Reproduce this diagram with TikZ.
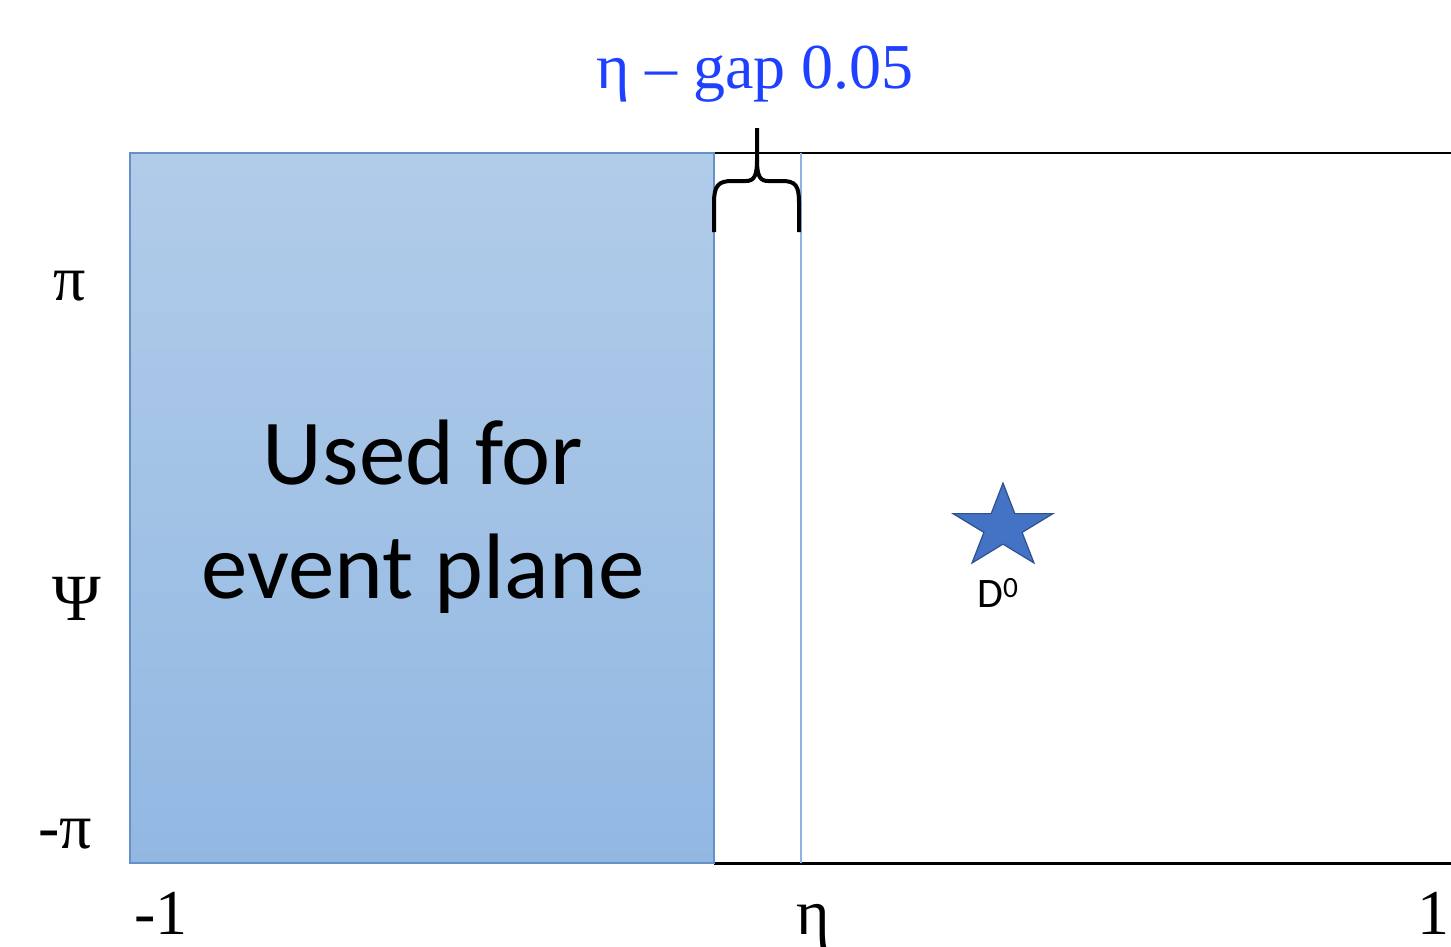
\documentclass[tikz,border=0pt]{standalone}
\usepackage{fontspec}
\setmainfont{Liberation Serif}
\newfontfamily\carl{Carlito}
\definecolor{titleblue}{RGB}{31,64,255}
\definecolor{boxtop}{RGB}{177,204,233}
\definecolor{boxbot}{RGB}{146,184,226}
\definecolor{boxedge}{RGB}{100,145,200}
\definecolor{gapline}{RGB}{143,180,227}
\definecolor{starfill}{RGB}{68,114,196}
\definecolor{staredge}{RGB}{47,82,143}
\begin{document}
\begin{tikzpicture}[x=1pt,y=-1pt,
  axislabel/.style={inner sep=0pt,font=\fontsize{64}{70}\selectfont},
  axisline/.style={draw=black,line width=2.6pt},
  bracestyle/.style={draw=black,line width=4pt,line join=round},
  starstyle/.style={fill=starfill,draw=staredge,line width=1.2pt,line join=miter}]
\useasboundingbox (0,0) rectangle (1451,946);
% axis lines
\draw[axisline,line width=2.2pt] (714,153) -- (1451,153);
\draw[axisline,line width=3pt] (714,863) -- (1451,863);
% event-plane box
\shade[top color=boxtop,bottom color=boxbot] (130,153) rectangle (714,863);
\draw[boxedge,line width=2pt] (130,153) rectangle (714,863);
\node[inner sep=0pt,align=center,font=\carl\fontsize{93}{114}\selectfont] (used) at (423,517) {Used for\\event plane};
% gap line
\draw[gapline,line width=2pt] (801,153) -- (801,863);
% brace
\draw[bracestyle] (714,232) -- (714,203) .. controls (714,186) and (718,181) .. (732,181) -- (746,181)
  .. controls (754,181) and (757,176) .. (757,160) -- (757,128);
\draw[bracestyle] (757,160) .. controls (757,176) and (760,181) .. (768,181) -- (782,181)
  .. controls (796,181) and (799,186) .. (799,203) -- (799,232);
\node[inner sep=0pt,anchor=base,text=titleblue,font=\fontsize{64}{70}\selectfont] (title) at (755,88) {η – gap 0.05};
% star
\draw[starstyle] (1003,483) -- (1014.8,513.6) -- (1053,513.6) -- (1022.1,532.4) -- (1034,563) -- (1003,544.1)
  -- (972,563) -- (983.9,532.4) -- (953,513.6) -- (991.2,513.6) -- cycle;
\node[inner sep=0pt,anchor=base,font=\carl\fontsize{42}{48}\selectfont] (d0) at (998,607) {D\textsuperscript{0}};
% axis labels
\node[axislabel,anchor=base] (pi) at (70,300) {π};
\node[axislabel,anchor=base,font=\fontsize{66}{72}\selectfont] (psi) at (77,620) {Ψ};
\node[axislabel,anchor=base] (mpi) at (65,848) {-π};
\node[axislabel,anchor=base] (m1) at (161,934) {-1};
\node[axislabel,anchor=base] (eta) at (813,934) {η};
\node[axislabel,anchor=base east] (p1) at (1450,934) {1};
\end{tikzpicture}
\end{document}
